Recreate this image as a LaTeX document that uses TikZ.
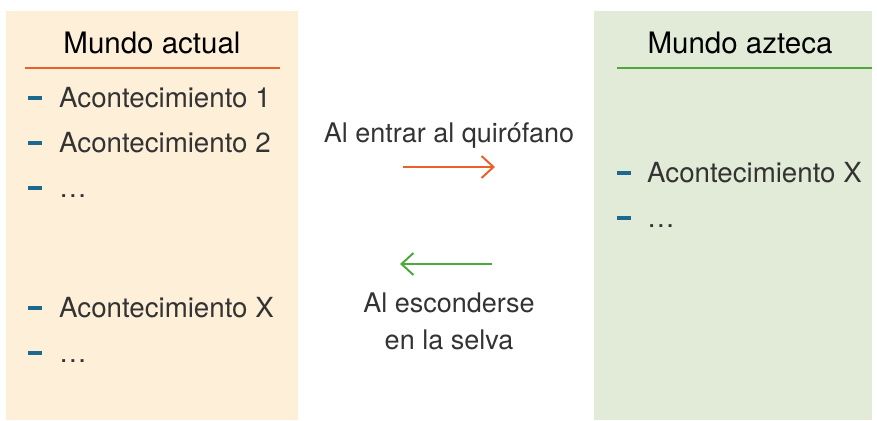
\documentclass[tikz,border=0pt]{standalone}
\usepackage{fontspec}
\setmainfont{TeX Gyre Heros}
\usepackage{tikz}
\usetikzlibrary{arrows.meta}

\definecolor{fondoactual}{RGB}{253,239,216}
\definecolor{fondoazteca}{RGB}{226,235,216}
\definecolor{naranja}{RGB}{233,96,43}
\definecolor{verde}{RGB}{77,170,58}
\definecolor{guion}{RGB}{28,104,142}

\begin{document}
\begin{tikzpicture}[x=1pt,y=-1pt,
    titulo/.style={anchor=base, inner sep=0pt, font=\fontsize{29.5}{34}\selectfont},
    evento/.style={anchor=base west, inner sep=0pt, text=black!80, font=\fontsize{27.7}{33}\selectfont},
    rotulo/.style={anchor=base, inner sep=0pt, text=black!80, font=\fontsize{27}{32}\selectfont},
    raya/.style={line width=2.6pt},
    marca/.style={guion, line width=3.5pt},
    flecha/.style={line width=2pt, -{Straight Barb[length=12pt,width=22pt]}}]

   \useasboundingbox (0,0) rectangle (877,420);

   % the two worlds
   \fill[fondoactual] (6,11) rectangle (298,420);
   \fill[fondoazteca] (594,11) rectangle (872,420);

   \node[titulo] (actual) at (152,53) {Mundo actual};
   \node[titulo] (azteca) at (740,53) {Mundo azteca};
   \draw[raya, naranja] (25,68) -- (280,68);
   \draw[raya, verde] (617,68) -- (872,68);

   % events on each side
   \foreach \y/\txt [count=\i] in {107/Acontecimiento 1, 152/Acontecimiento 2, 197/\dots, 317/Acontecimiento X, 362/\dots} {
      \draw[marca] (28,\y-9) -- (42,\y-9);
      \node[evento] (izq\i) at (59,\y) {\txt};
   }
   \foreach \y/\txt [count=\i] in {182/Acontecimiento X, 227/\dots} {
      \draw[marca] (617,\y-9) -- (631,\y-9);
      \node[evento] (der\i) at (647,\y) {\txt};
   }

   % going there and back
   \node[rotulo] (entrar) at (449,142) {Al entrar al quirófano};
   \coordinate (ida ini) at (403,167);
   \coordinate (ida fin) at (495,167);
   \draw[flecha, naranja] (ida ini) -- (ida fin);

   \coordinate (vuelta ini) at (492,264);
   \coordinate (vuelta fin) at (400,264);
   \draw[flecha, verde] (vuelta ini) -- (vuelta fin);
   \node[rotulo] (esconder) at (449,312) {Al esconderse};
   \node[rotulo] (selva) at (449,349) {en la selva};

\end{tikzpicture}
\end{document}
